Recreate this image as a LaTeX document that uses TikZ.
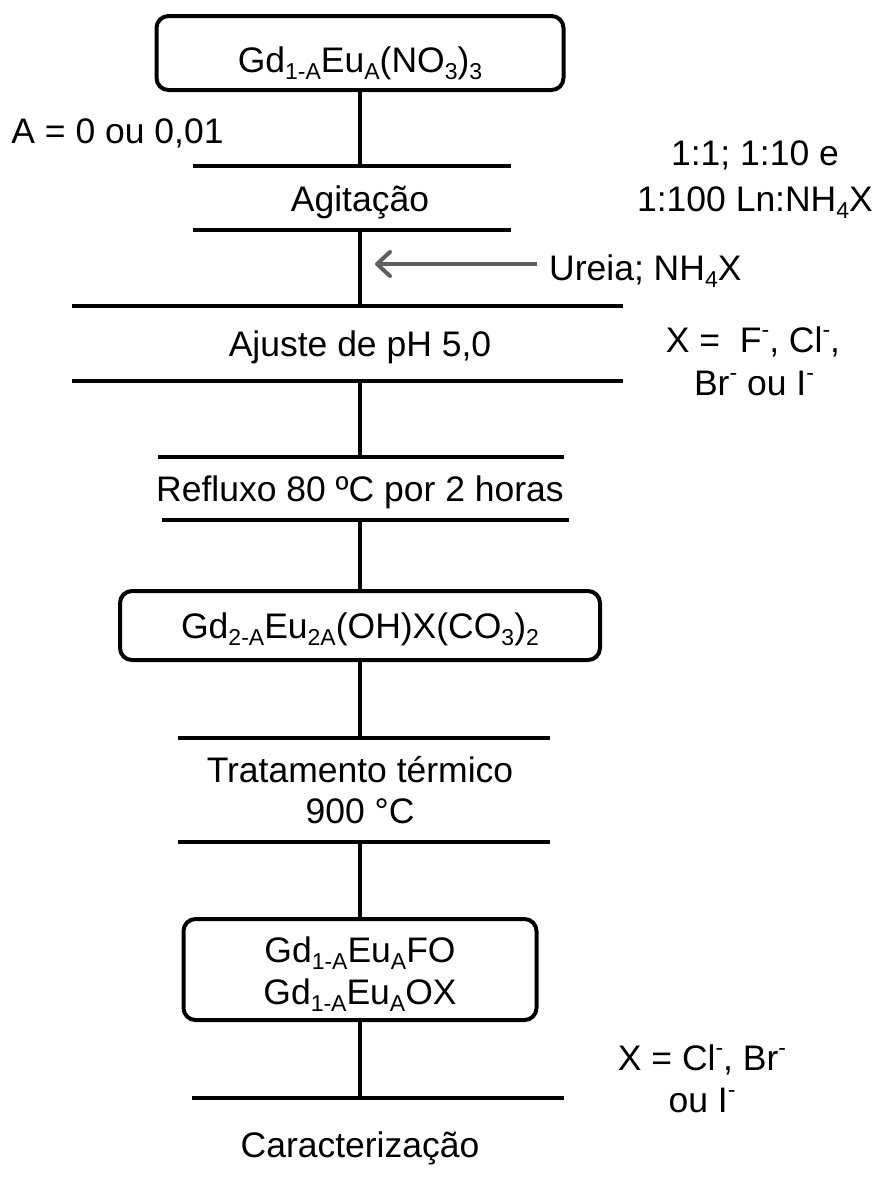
\documentclass[tikz,border=0pt]{standalone}
\usepackage{fontspec}
\setmainfont{Liberation Sans}
\usetikzlibrary{arrows.meta}
\definecolor{arrowgray}{RGB}{95,95,95}
\newcommand\chemsub[1]{\raisebox{-0.22em}{\fontsize{23}{23}\selectfont #1}}
\newcommand\chemsup[1]{\raisebox{0.40em}{\fontsize{23}{23}\selectfont #1}}
\begin{document}
\begin{tikzpicture}[x=1pt,y=-1pt,
  lbl/.style={font=\fontsize{35.5}{42}\selectfont, inner sep=0pt, anchor=base},
  lblw/.style={font=\fontsize{35.5}{42}\selectfont, inner sep=0pt, anchor=base west},
  box/.style={draw, line width=4pt, rounded corners=12pt, inner sep=0pt},
  bar/.style={line width=4pt},
  link/.style={line width=4pt},
  garrow/.style={line width=4pt, draw=arrowgray, -{Straight Barb[length=13pt,width=24pt,round]}}]
\fill[white] (0,0) rectangle (878,1184);
\useasboundingbox (0,0) rectangle (878,1184);

% boxes
\node[box, minimum width=407pt, minimum height=74pt] (n1) at (360,53) {};
\node[lbl] (n1t) at (360,72) {Gd\chemsub{1-A}Eu\chemsub{A}(NO\chemsub{3})\chemsub{3}};
\node[box, minimum width=480pt, minimum height=69pt] (n2) at (360,625.5) {};
\node[lbl] (n2t) at (360,638) {Gd\chemsub{2-A}Eu\chemsub{2A}(OH)X(CO\chemsub{3})\chemsub{2}};
\node[box, minimum width=353pt, minimum height=101pt] (n3) at (360,969.5) {};
\node[lbl] (n3a) at (360,962) {Gd\chemsub{1-A}Eu\chemsub{A}FO};
\node[lbl] (n3b) at (360,1004) {Gd\chemsub{1-A}Eu\chemsub{A}OX};

% bar coordinates
\coordinate (b1L) at (193,166); \coordinate (b1R) at (511,166); \coordinate (b1c) at (360,166);
\coordinate (b2L) at (193,230); \coordinate (b2R) at (511,230); \coordinate (b2c) at (360,230);
\coordinate (b3L) at (72,306);  \coordinate (b3R) at (623,306); \coordinate (b3c) at (360,306);
\coordinate (b4L) at (72,381);  \coordinate (b4R) at (623,381); \coordinate (b4c) at (360,381);
\coordinate (b5L) at (158,457); \coordinate (b5R) at (564,457); \coordinate (b5c) at (360,457);
\coordinate (b6L) at (162,520); \coordinate (b6R) at (569,520); \coordinate (b6c) at (360,520);
\coordinate (b7L) at (178,738); \coordinate (b7R) at (550,738); \coordinate (b7c) at (360,738);
\coordinate (b8L) at (178,842); \coordinate (b8R) at (550,842); \coordinate (b8c) at (360,842);
\coordinate (b9L) at (192,1098); \coordinate (b9R) at (564,1098); \coordinate (b9c) at (360,1098);

\foreach \i in {1,...,9} {\draw[bar] (b\i L) -- (b\i R);}

% vertical links
\draw[link] (n1.south) -- (b1c);
\draw[link] (b2c) -- (b3c);
\draw[link] (b4c) -- (b5c);
\draw[link] (b6c) -- (n2.north);
\draw[link] (n2.south) -- (b7c);
\draw[link] (b8c) -- (n3.north);
\draw[link] (n3.south) -- (b9c);

% step labels
\node[lbl] (agit) at (360,211) {Agitação};
\node[lbl] (ajuste) at (360,356) {Ajuste de pH 5,0};
\node[lbl] (reflux) at (360,501) {Refluxo 80 ºC por 2 horas};
\node[lbl] (trat1) at (360,782) {Tratamento térmico};
\node[lbl] (trat2) at (360,823) {900 °C};
\node[lbl] (carac) at (360,1157) {Caracterização};

% side notes
\node[lbl] (aeq) at (117.5,143) {A = 0 ou 0,01};
\node[lbl] (ratio1) at (755,165) {1:1; 1:10 e};
\node[lbl] (ratio2) at (755,211) {1:100 Ln:NH\chemsub{4}X};
\node[lblw] (ureia) at (549,280) {Ureia; NH\chemsub{4}X};
\node[lbl] (xeq1) at (753,352) {X = \ F\chemsup{-}, Cl\chemsup{-},};
\node[lbl] (xeq2) at (754,395) {Br\chemsup{-} ou I\chemsup{-}};
\node[lbl] (xcl1) at (702,1070) {X = Cl\chemsup{-}, Br\chemsup{-}};
\node[lbl] (xcl2) at (702,1112) {ou I\chemsup{-}};

% reagent arrow
\coordinate (uTail) at (537,264);
\coordinate (uTip) at (375,264);
\draw[garrow] (uTail) -- (uTip);
\end{tikzpicture}
\end{document}
